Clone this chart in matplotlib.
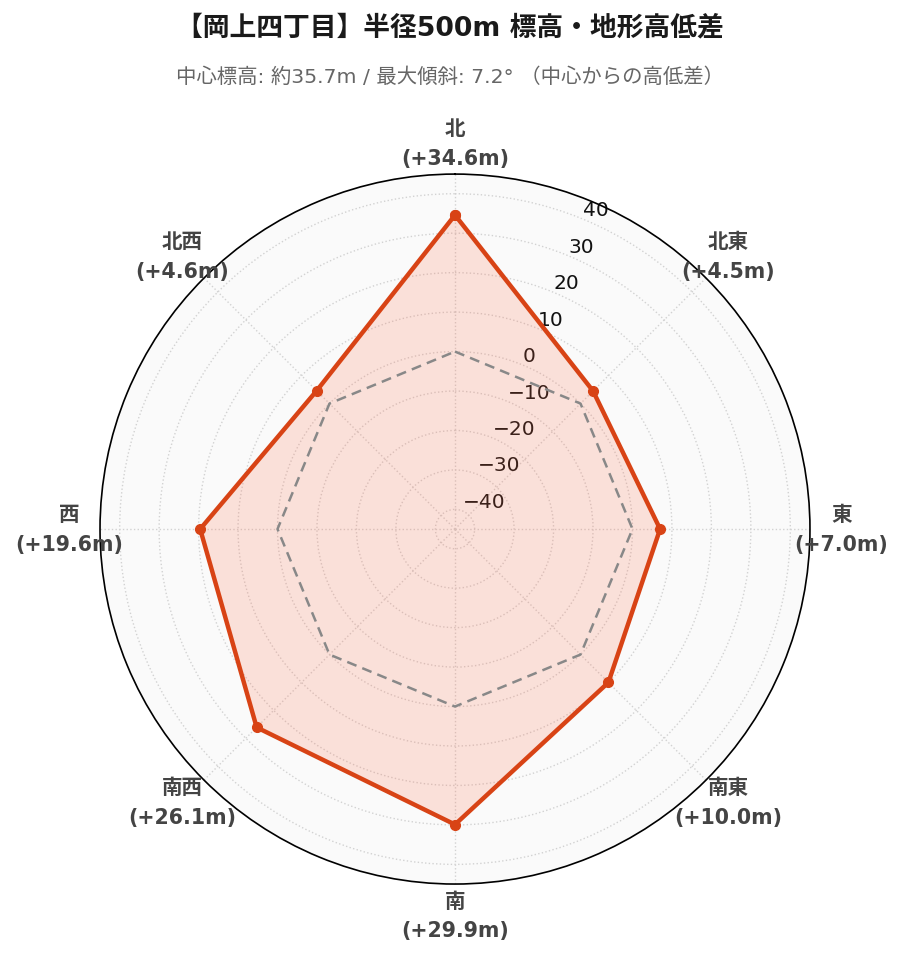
import numpy as np
import matplotlib
matplotlib.use("Agg")
import matplotlib.pyplot as plt

directions = ['北', '北東', '東', '南東', '南', '南西', '西', '北西']
diffs = [34.6, 4.5, 7.0, 10.0, 29.9, 26.1, 19.6, 4.6]
zero_line = [0, 0, 0, 0, 0, 0, 0, 0]
r_ticks = [-40, -30, -20, -10, 0, 10, 20, 30, 40]
title = '【岡上四丁目】半径500m 標高・地形高低差'
subtitle = '中心標高: 約35.7m / 最大傾斜: 7.2° （中心からの高低差）'

FAM = ['DejaVu Sans', 'Noto Sans CJK JP']
plt.rcParams['font.family'] = FAM
LINE = '#d84315'

fig = plt.figure(figsize=(9, 9.62), dpi=100)
ax = fig.add_axes([0.1111, 0.0800, 0.7889, 0.738], projection='polar')
ax.set_theta_zero_location('N')
ax.set_theta_direction(-1)
ax.set_facecolor('#fafafa')

n = len(directions)
theta = np.linspace(0, 2 * np.pi, n, endpoint=False)
tc = np.append(theta, theta[0])
vals = np.append(diffs, diffs[0])
zl = np.append(zero_line, zero_line[0])

rmax = max(diffs) * 1.3
ax.set_ylim(-rmax, rmax)

ax.fill(tc, vals, color='#ff6a45', alpha=0.18, zorder=2, lw=0)
ax.plot(tc, zl, color='#888888', lw=1.8, ls=(0, (4, 2.5)), zorder=3)
ax.plot(tc, vals, color=LINE, lw=3.2, marker='o', ms=7, zorder=4)

ax.set_yticks(r_ticks)
ax.set_yticklabels([f'{v}'.replace('-', '\u2212') for v in r_ticks], fontsize=14.5, color='#111111')
ax.set_rlabel_position(22.5)
ax.set_xticks(theta)
ax.set_xticklabels([])
ax.grid(True, color='#d2d2d2', ls=':', lw=1.0)
for gl in ax.yaxis.get_gridlines() + ax.xaxis.get_gridlines():
    gl.set_zorder(2.5)
ax.spines['polar'].set_color('black')
ax.spines['polar'].set_linewidth(1.2)
ax.tick_params(axis='x', length=0)

label_r = rmax + 7.9
for t, d, v in zip(theta, directions, diffs):
    ax.text(t, label_r, f'{d}\n(+{v:.1f}m)', ha='center', va='center',
            fontsize=14.8, fontweight='bold', color='#444444',
            linespacing=1.58, clip_on=False, zorder=5)

fig.text(0.5, 1 - 28 / 962, title, ha='center', va='center', fontsize=19.3,
         fontweight='bold', color='#1a1a1a')
fig.text(0.5, 1 - 77 / 962, subtitle, ha='center', va='center', fontsize=14.7,
         color='#666666')

fig.savefig('out.png', dpi=100, facecolor='white')
